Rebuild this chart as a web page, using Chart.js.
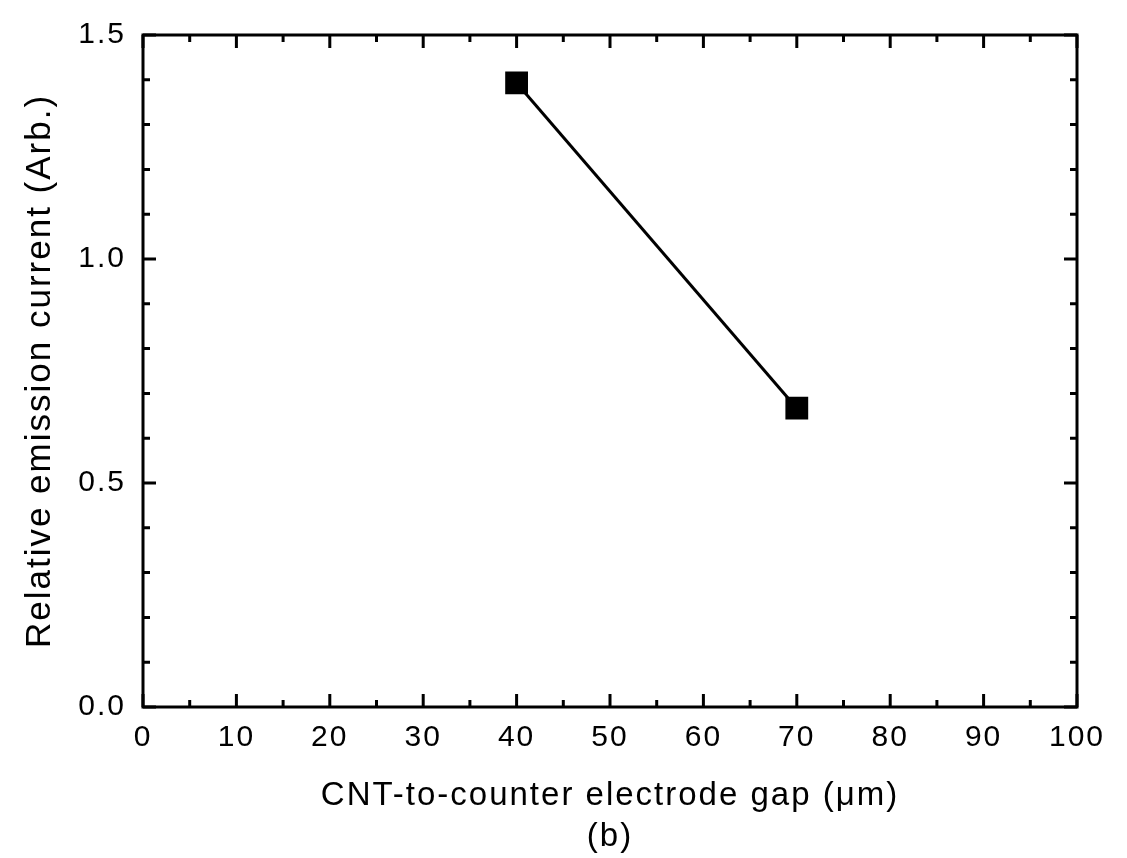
<!DOCTYPE html>
<html>
<head>
<meta charset="utf-8">
<script src="https://cdn.jsdelivr.net/npm/chart.js@4"></script>
<style>
  html, body { margin: 0; padding: 0; background: #fff; }
  #wrap { width: 1127px; height: 858px; }
</style>
</head>
<body>
<div id="wrap"><canvas id="plot"></canvas></div>
<script>
var gapUm = [40, 70];
var relCurrent = [1.393, 0.667];

var xTicks = [0, 10, 20, 30, 40, 50, 60, 70, 80, 90, 100];
var yTicks = [0.0, 0.5, 1.0, 1.5];

var font = 'Arial, "Liberation Sans", sans-serif';

// the scanned lettering is set a little wide
var wideText = {
  id: 'wideText',
  beforeUpdate: function (chart) { chart.ctx.letterSpacing = '2px'; },
  beforeDraw: function (chart) { chart.ctx.letterSpacing = '2px'; }
};

// inward ticks on all four sides plus the frame
var frameTicks = {
  id: 'frameTicks',
  afterDraw: function (chart) {
    var ctx = chart.ctx;
    var a = chart.chartArea;
    var xs = chart.scales.x, ys = chart.scales.y;
    ctx.save();
    ctx.strokeStyle = '#000';
    ctx.lineWidth = 3;
    ctx.strokeRect(a.left, a.top, a.right - a.left, a.bottom - a.top);
    for (var v = 0; v <= 100; v += 5) {
      var px = xs.getPixelForValue(v);
      var len = v % 10 === 0 ? 13 : 7;
      ctx.beginPath();
      ctx.moveTo(px, a.bottom); ctx.lineTo(px, a.bottom - len);
      ctx.moveTo(px, a.top); ctx.lineTo(px, a.top + len);
      ctx.stroke();
    }
    for (var i = 0; i <= 15; i++) {
      var py = ys.getPixelForValue(i / 10);
      var l = i % 5 === 0 ? 13 : 7;
      ctx.beginPath();
      ctx.moveTo(a.left, py); ctx.lineTo(a.left + l, py);
      ctx.moveTo(a.right, py); ctx.lineTo(a.right - l, py);
      ctx.stroke();
    }
    ctx.restore();
  }
};

new Chart(document.getElementById('plot').getContext('2d'), {
  type: 'scatter',
  data: {
    datasets: [{
      data: gapUm.map(function (g, i) { return { x: g, y: relCurrent[i] }; }),
      showLine: true,
      borderColor: '#000',
      borderWidth: 3,
      backgroundColor: '#000',
      pointStyle: 'rect',
      pointRadius: 14,
      pointHoverRadius: 14
    }]
  },
  options: {
    responsive: true,
    maintainAspectRatio: false,
    animation: false,
    layout: { padding: { top: 35, right: 50, left: 0, bottom: 0 } },
    plugins: { legend: { display: false }, tooltip: { enabled: false } },
    scales: {
      x: {
        type: 'linear',
        min: 0, max: 100,
        afterBuildTicks: function (s) { s.ticks = xTicks.map(function (v) { return { value: v }; }); },
        afterFit: function (s) { s.height = 151; },
        grid: { display: false, drawTicks: false },
        border: { display: false },
        ticks: { color: '#000', padding: 13, font: { family: font, size: 30 } },
        title: {
          display: true,
          text: ['CNT-to-counter electrode gap (\u03bcm)', '(b)'],
          color: '#000',
          font: { family: font, size: 33, lineHeight: 1.25 },
          padding: { top: 8, bottom: 0 }
        }
      },
      y: {
        type: 'linear',
        min: 0, max: 1.5,
        afterBuildTicks: function (s) { s.ticks = yTicks.map(function (v) { return { value: v }; }); },
        afterFit: function (s) { s.width = 143; },
        grid: { display: false, drawTicks: false },
        border: { display: false },
        ticks: {
          color: '#000', padding: 17, font: { family: font, size: 30 },
          callback: function (v) { return Number(v).toFixed(1); }
        },
        title: {
          display: true,
          text: 'Relative emission current (Arb.)',
          color: '#000',
          font: { family: font, size: 35, lineHeight: 1.2 },
          padding: { top: 19, bottom: 10 }
        }
      }
    }
  },
  plugins: [wideText, frameTicks]
});
</script>
</body>
</html>
